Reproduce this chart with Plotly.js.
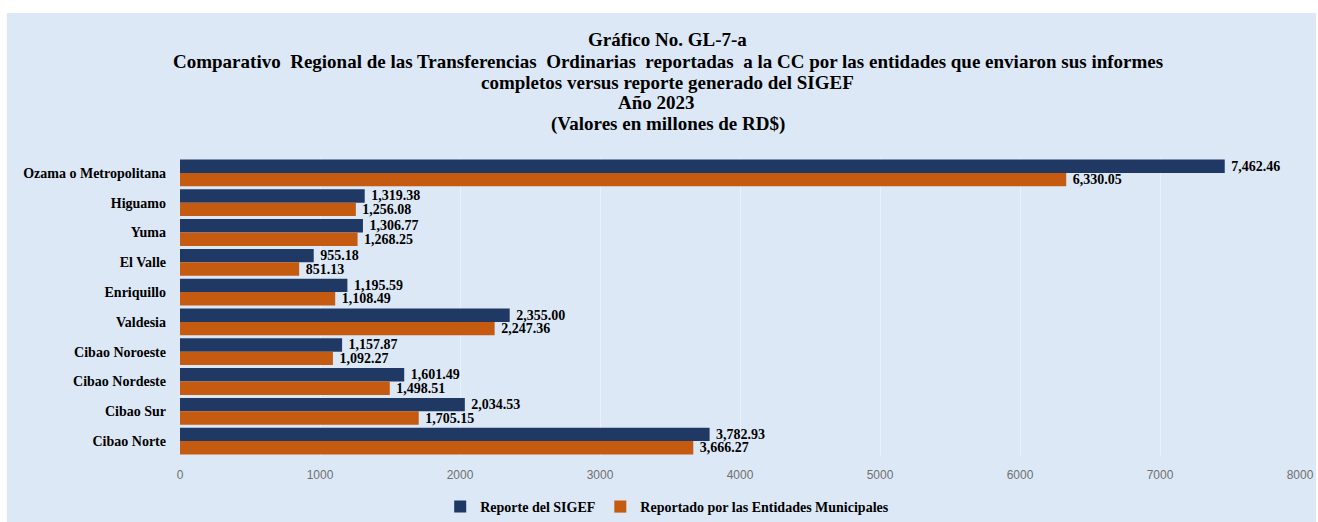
<!DOCTYPE html>
<html>
<head>
<meta charset="utf-8">
<script src="https://cdn.plot.ly/plotly-3.0.1.min.js"></script>
<style>html,body{margin:0;padding:0;background:#fff;}#chart{width:1318px;height:522px;}</style>
</head>
<body>
<div id="chart"></div>
<script>
const categories = ["Ozama o Metropolitana","Higuamo","Yuma","El Valle","Enriquillo","Valdesia","Cibao Noroeste","Cibao Nordeste","Cibao Sur","Cibao Norte"];
const sigef = [7462.46,1319.38,1306.77,955.18,1195.59,2355.00,1157.87,1601.49,2034.53,3782.93];
const entidades = [6330.05,1256.08,1268.25,851.13,1108.49,2247.36,1092.27,1498.51,1705.15,3666.27];
const seriesNames = ["Reporte del SIGEF","Reportado por las Entidades Municipales"];
const xTicks = [0,1000,2000,3000,4000,5000,6000,7000,8000];
const titleLines = ["Gráfico No. GL-7-a",
  "Comparativo\u00a0 Regional de las Transferencias\u00a0 Ordinarias\u00a0 reportadas\u00a0 a la CC por las entidades que enviaron sus informes",
  "completos versus reporte generado del SIGEF",
  "Año 2023",
  "(Valores en millones de RD$)"];

const serif = "Liberation Serif";
const labelFont = {family: serif, size: 14, color: "#000", weight: 700};

const traces = [
  {type:"bar", orientation:"h", name:seriesNames[0], y:categories, x:sigef,
   marker:{color:"#1f3864"}, texttemplate:"\u00a0%{x:,.2f}", textposition:"outside",
   textfont:labelFont, constraintext:"none", cliponaxis:false, hoverinfo:"x+y"},
  {type:"bar", orientation:"h", name:seriesNames[1], y:categories, x:entidades,
   marker:{color:"#c55a11"}, texttemplate:"\u00a0%{x:,.2f}", textposition:"outside",
   textfont:labelFont, constraintext:"none", cliponaxis:false, hoverinfo:"x+y"}
];

// title lines as separate annotations (paper coords; plot area 180..1300 x 158..456 px)
const titleY = [1.3960, 1.3255, 1.2550, 1.1846, 1.1141];
const titleX = [0.4357, 0.4357, 0.4357, 0.4250, 0.4357];
const annotations = titleLines.map((t,i) => ({
  text:t, xref:"paper", yref:"paper", x:titleX[i], y:titleY[i], xanchor:"center", yanchor:"middle",
  showarrow:false, font:{family:serif, size:19, color:"#000", weight:700}
}));

const layout = {
  width:1318, height:522,
  margin:{l:180, r:18, t:158, b:66, autoexpand:false},
  paper_bgcolor:"#ffffff",
  plot_bgcolor:"rgba(0,0,0,0)",
  barmode:"group", bargap:0.1, bargroupgap:0,
  annotations: annotations,
  xaxis:{range:[0,8000], tickvals:xTicks, ticktext:xTicks.map(String), showgrid:true,
         gridcolor:"rgba(240,244,248,0.75)", gridwidth:1, zeroline:false, showline:false,
         tickfont:{family:"Liberation Sans", size:12, color:"#707070"},
         ticklabelstandoff:10, automargin:false, fixedrange:true},
  yaxis:{type:"category", autorange:"reversed", showgrid:false, zeroline:false, showline:false,
         tickfont:{family:serif, size:14, color:"#000", weight:700}, ticklabelstandoff:13,
         automargin:false, fixedrange:true},
  legend:{orientation:"h", x:0.435, xanchor:"center", xref:"paper", yref:"container", y:0.0287, yanchor:"middle",
          font:{family:serif, size:14, color:"#000", weight:700}, bgcolor:"rgba(0,0,0,0)", traceorder:"normal"},
  shapes:[{type:"rect", xref:"paper", yref:"paper", x0:-0.1545, x1:1.0143, y0:-0.25, y1:1.4866,
           fillcolor:"#dce8f6", line:{width:0}, layer:"below"}],
  showlegend:true
};
Plotly.newPlot("chart", traces, layout, {displayModeBar:false, staticPlot:true});
</script>
</body>
</html>
